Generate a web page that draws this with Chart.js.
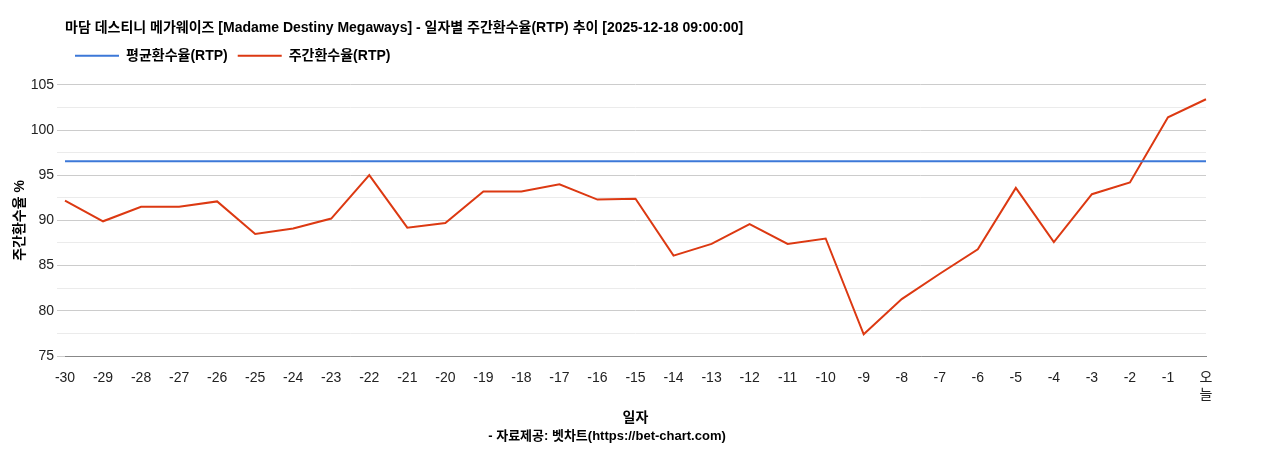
<!DOCTYPE html>
<html><head><meta charset="utf-8">
<script src="https://cdn.jsdelivr.net/npm/chart.js@4"></script>
<style>body{margin:0;background:#fff}#w{width:1268px;height:450px}</style>
</head><body><div id="w"><canvas id="c"></canvas></div>
<script>
const labels=['-30','-29','-28','-27','-26','-25','-24','-23','-22','-21','-20','-19','-18','-17','-16','-15','-14','-13','-12','-11','-10','-9','-8','-7','-6','-5','-4','-3','-2','-1',['오','늘']];
const weekly=[92.2,89.9,91.5,91.5,92.1,88.5,89.1,90.2,95.0,89.2,89.7,93.2,93.2,94.0,92.3,92.4,86.1,87.4,89.6,87.4,88.0,77.4,81.3,84.1,86.8,93.6,87.6,92.9,94.2,101.4,103.4];
const avgValue=96.55;
const avg=labels.map(()=>avgValue);
const F='"Liberation Sans","Noto Sans CJK KR",sans-serif';
Chart.defaults.font.family=F;Chart.defaults.color='#222';
new Chart(document.getElementById('c'),{type:'line',
data:{labels,datasets:[
{label:'평균환수율(RTP)',data:avg,borderColor:'#3c78d8',backgroundColor:'#3c78d8',borderWidth:2,pointRadius:0},
{label:'주간환수율(RTP)',data:weekly,borderColor:'#dc3912',backgroundColor:'#dc3912',borderWidth:2,pointRadius:0,tension:0}]},
options:{responsive:true,maintainAspectRatio:false,animation:false,
layout:{padding:{left:8,right:62,top:8,bottom:6}},
plugins:{title:{display:true,fullSize:false,text:'마담 데스티니 메가웨이즈 [Madame Destiny Megaways] - 일자별 주간환수율(RTP) 추이 [2025-12-18 09:00:00]',align:'start',font:{size:14,weight:'bold'},color:'#000',padding:{top:12,bottom:2}},
legend:{align:'start',fullSize:false,labels:{boxWidth:44,boxHeight:0,font:{size:14,weight:'bold'},color:'#000',padding:10},onClick:null},
subtitle:{display:true,position:'bottom',text:'- 자료제공: 벳차트(https://bet-chart.com)',font:{size:13,weight:'bold'},color:'#000',padding:{top:0}}},
scales:{x:{grid:{display:false},border:{color:'#888'},ticks:{font:{size:14},color:'#222',maxRotation:0,autoSkip:false,padding:6},
title:{display:true,text:'일자',font:{size:14,weight:'bold'},color:'#000',padding:{top:0,bottom:2}}},
y:{min:75,max:105,border:{display:false},afterFit:s=>{s.width=57},ticks:{stepSize:2.5,font:{size:14},color:'#222',callback:v=>v%5===0?v:''},
grid:{color:c=>c.tick&&c.tick.value%5===0?'#cccccc':'#ebebeb'},
title:{display:true,text:'주간환수율 %',font:{size:14,weight:'bold'},color:'#000'}}}},
plugins:[{id:'gap',beforeInit(ch){const f=ch.legend.fit;ch.legend.fit=function(){f.call(this);this.height+=12;}}}]});
</script></body></html>
